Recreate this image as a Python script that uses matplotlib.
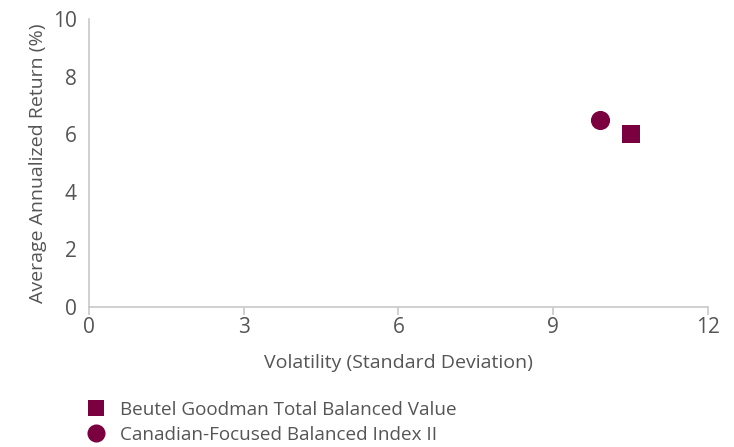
import matplotlib
matplotlib.use("Agg")
import matplotlib.pyplot as plt
from matplotlib.lines import Line2D

# Risk / return points
funds = ["Beutel Goodman Total Balanced Value", "Canadian-Focused Balanced Index II"]
volatility = [10.5, 9.9]
returns = [6.0, 6.5]
markers = ["s", "o"]

x_ticks = [0, 3, 6, 9, 12]
y_ticks = [0, 2, 4, 6, 8, 10]

MAROON = "#7a0040"
TEXT = "#555555"
AXIS = "#c8c8c8"

plt.rcParams["font.family"] = ["Open Sans", "DejaVu Sans"]

fig = plt.figure(figsize=(7.34, 4.47), dpi=100)
ax = fig.add_axes([89 / 734, 1 - 307 / 447, 619 / 734, 288 / 447])

for x, y, m in zip(volatility, returns, markers):
    ax.scatter(x, y, marker=m, s=170 if m == "s" else 190, color=MAROON, zorder=3, linewidths=0)

ax.set_xlim(0, 12)
ax.set_ylim(0, 10)
ax.set_xticks(x_ticks)
ax.set_yticks(y_ticks)

for side in ("top", "right"):
    ax.spines[side].set_visible(False)
for side in ("left", "bottom"):
    ax.spines[side].set_color(AXIS)
    ax.spines[side].set_linewidth(1.2)

ax.tick_params(axis="x", colors=AXIS, length=6, width=1.2, labelcolor=TEXT, labelsize=15, pad=1)
ax.tick_params(axis="y", length=0, labelcolor=TEXT, labelsize=15, pad=9)

ax.set_xlabel("Volatility (Standard Deviation)", color=TEXT, fontsize=14, labelpad=12)
ax.set_ylabel("Average Annualized Return (%)", color=TEXT, fontsize=14, labelpad=4)

handles = [
    Line2D([], [], marker=m, linestyle="none", color=MAROON, markersize=12 if m == "s" else 13,
           markeredgewidth=0, label=name)
    for name, m in zip(funds, markers)
]
fig.legend(handles=handles, loc="upper left", bbox_to_anchor=(87 / 734, 1 - 401 / 447),
           frameon=False, fontsize=13.6, labelcolor=TEXT, handlelength=1.0, handletextpad=0.75,
           labelspacing=0.36, borderaxespad=0, borderpad=0)

fig.savefig("out.png", dpi=100)
